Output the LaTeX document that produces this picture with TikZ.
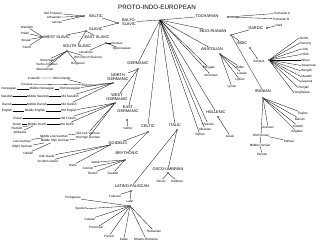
\documentclass[tikz,border=0pt]{standalone}
\usepackage{fontspec}
\setmainfont{Liberation Sans}
\begin{document}
\begin{tikzpicture}[x=1pt,y=-1pt,line width=0.3pt,
  leaf/.style={inner sep=0.4pt, font=\fontsize{3.1}{3.5}\selectfont},
  grp/.style={inner sep=0.4pt, font=\fontsize{3.9}{4.2}\selectfont, align=center},
  dotn/.style={circle, fill=black, inner sep=0pt, minimum size=1.8pt}]
\useasboundingbox (0,0) rectangle (320,247);
\fill[white] (0,0) rectangle (320,247);
% title and root
\node[inner sep=0pt, font=\fontsize{6.3}{7}\selectfont] (pie) at (157,7) {PROTO-INDO-EUROPEAN};
\coordinate (root) at (160,20);
% ---------------- Balto-Slavic
\node[grp] (bs) at (129,22) {BALTO-\\SLAVIC};
\node[dotn] (bsd) at (118,23) {};
\node[grp] (bal) at (96,16) {BALTIC};
\node[dotn] (bald) at (84,16) {};
\node[leaf] (opr) at (53,13) {Old Prussian};
\node[leaf] (lit) at (54,17.5) {Lithuanian};
\node[leaf] (lat) at (57,22) {Latvian};
\node[grp] (sla) at (96,29) {SLAVIC};
\node[dotn] (slad) at (86,31) {};
\node[grp] (ws) at (57,37) {WEST SLAVIC};
\node[dotn] (wsd) at (43,37) {};
\node[leaf] (wen) at (27,27) {Wendish};
\node[leaf] (pol) at (25,33) {Polish};
\node[leaf] (slk) at (26,40) {Slovak};
\node[leaf] (cze) at (27,47) {Czech};
\node[grp] (ss) at (77,46) {SOUTH SLAVIC};
\node[dotn] (ssd) at (67,51) {};
\node[leaf] (slv) at (47,60) {Slovenian};
\node[leaf] (sc) at (47,64.5) {Serbo-Croatian};
\node[leaf] (mac) at (45,69) {Macedonian};
\node[leaf] (bul) at (78,64) {Bulgarian};
\node[leaf] (ocs) at (88,57) {Old Church Slavonic};
\node[grp] (es) at (97,37) {EAST SLAVIC};
\node[dotn] (esd) at (106,43) {};
\node[leaf] (rus) at (117,43) {Russian};
\node[leaf] (ukr) at (86,52) {Ukrainian};
\node[leaf] (bye) at (122,49) {Byelorussian};
% ---------------- Germanic
\node[grp] (ger) at (138,63) {GERMANIC};
\node[dotn] (gerd) at (138,69) {};
\node[grp] (ng) at (118,77) {NORTH\\GERMANIC};
\node[dotn] (ngd) at (113,83) {};
\node[leaf] (onorse) at (89,85) {Old Norse};
\node[leaf] (oice) at (62,78) {Old Icelandic};
\node[leaf] (ice) at (34,78) {Icelandic};
\node[leaf] (far) at (27,84) {Faroese};
\node[leaf] (onorw) at (70,89) {Old Norwegian};
\node[leaf] (mnorw) at (42,89) {Middle Norwegian};
\node[leaf] (norw) at (9,89) {Norwegian};
\node[leaf] (oswe) at (70,96) {Old Swedish};
\node[leaf] (mswe) at (38,96) {Middle Swedish};
\node[leaf] (swe) at (7,96) {Swedish};
\node[leaf] (odan) at (69,104) {Old Danish};
\node[leaf] (mdan) at (37,104) {Middle Danish};
\node[leaf] (dan) at (7,104) {Danish};
\node[grp] (wg) at (117,97) {WEST\\GERMANIC};
\node[dotn] (wgd) at (115,103) {};
\node[leaf] (oeng) at (69,111) {Old English};
\node[leaf] (meng) at (35,111) {Middle English};
\node[leaf] (eng) at (7,111) {English};
\node[leaf] (ofri) at (68,118) {Old Frisian};
\node[leaf] (fri) at (18,118) {Frisian};
\node[leaf] (odut) at (67,124) {Old Dutch};
\node[leaf] (mdut) at (37,124) {Middle Dutch};
\node[leaf] (dut) at (17,124) {Dutch};
\node[leaf] (fle) at (17,128) {Flemish};
\node[leaf] (afr) at (20,132) {Afrikaans};
\node[leaf] (olg) at (88,133) {Old Low German};
\node[leaf] (mlg) at (54,136) {Middle Low German};
\node[leaf] (lg) at (22,141) {Low German};
\node[leaf] (ohg) at (88,138) {Old High German};
\node[leaf] (mhg) at (55,141) {Middle High German};
\node[leaf] (hg) at (22,147) {(High) German};
\node[leaf] (yid) at (28,153) {Yiddish};
\node[grp] (eg) at (128,109) {EAST\\GERMANIC};
\node[dotn] (egd) at (127,120) {};
\node[leaf] (got) at (128,128) {Gothic};
% ---------------- Celtic
\node[grp] (cel) at (148,126) {CELTIC};
\node[dotn] (celd) at (148,132) {};
\node[grp] (goi) at (118,143) {GOIDELIC};
\node[dotn] (goid) at (110,145) {};
\node[leaf] (irg) at (47,156) {Irish Gaelic};
\node[leaf] (scg) at (48,161) {Scottish Gaelic};
\node[leaf] (manx) at (73,165) {Manx};
\node[grp] (bry) at (127,153) {BRYTHONIC};
\node[dotn] (bryd) at (125,160) {};
\node[leaf] (wel) at (96,162) {Welsh};
\node[leaf] (cor) at (88,168) {Cornish};
\node[leaf] (bre) at (93,173) {Breton};
\node[leaf] (gau) at (113,173) {Gaulish};
% ---------------- Italic
\node[grp] (ita) at (175,125) {ITALIC};
\node[dotn] (itad) at (177,130) {};
\node[grp] (lf) at (132,186) {LATINO-FALISCAN};
\node[dotn] (lfd) at (131,191) {};
\node[leaf] (fal) at (115,196) {Faliscan};
\node[leaf] (latn) at (130,201) {Latin};
\node[dotn] (latd) at (130,206) {};
\node[leaf] (por) at (73,198) {Portuguese};
\node[leaf] (spa) at (81,209) {Spanish};
\node[leaf] (cat) at (90,219) {Catalan};
\node[leaf] (pro) at (96,228) {Proven\c{c}al};
\node[leaf] (fre) at (109,236) {French};
\node[leaf] (itl) at (124,239) {Italian};
\node[leaf] (rha) at (146,239) {Rhaeto-Romance};
\node[leaf] (rum) at (154,231) {Rumanian};
\node[grp] (ou) at (168,169) {OSCO-UMBRIAN};
\node[dotn] (oud) at (168,173) {};
\node[leaf] (osc) at (161,181) {Oscan};
\node[leaf] (umb) at (177,181) {Umbrian};
% ---------------- Hellenic and others
\node[grp] (hel) at (216,112) {HELLENIC};
\node[dotn] (held) at (218,117) {};
\node[leaf] (gre) at (230,136) {Greek};
\node[leaf] (thr) at (208,124) {Thracian};
\node[leaf] (alb) at (205,129) {Albanian};
\node[leaf] (ill) at (200,135) {Illyrian};
\node[leaf] (phr) at (209,68) {Phrygian};
\node[leaf] (arm) at (211,75) {Armenian};
% ---------------- Anatolian
\node[grp] (ana) at (212,49) {ANATOLIAN};
\node[dotn] (anad) at (220,54) {};
\node[leaf] (hit) at (240,67) {Hittite};
\node[leaf] (luw) at (242,73) {Luwian};
\node[leaf] (lyd) at (240,80) {Lydian};
\node[leaf] (lyc) at (232,87) {Lycian};
% ---------------- Indo-Iranian
\node[grp] (ii) at (213,31) {INDO-IRANIAN};
\node[dotn] (iid) at (231,35) {};
\node[grp] (dar) at (256,28) {DARDIC};
\node[dotn] (dard) at (267,28) {};
\node[leaf] (dardl) at (279,25) {Dard};
\node[grp] (ind) at (242,43) {INDIC};
\node[dotn] (indd) at (250,48) {};
\node[leaf] (san) at (259,61) {Sanskrit};
\node[dotn] (sand) at (269,60) {};
\foreach \n/\y/\x/\t in {sin/38/299/Sindhi, rom/43.5/299/Romany, urd/49/301/Urdu, hin/54.5/301/Hindi,
  bih/60/301/Bihari, ass/65.5/301/Assamese, ben/71/301/Bengali, mar/76.5/301/Marathi,
  guj/82/301/Gujarati, pun/87.5/298/Punjabi, sng/93/294/Singhalese}
  {\node[leaf, anchor=west] (\n) at (\x,\y) {\t};
   \draw (sand) -- (\n.west);}
\node[grp] (ir) at (263,91) {IRANIAN};
\node[dotn] (ird) at (263,98) {};
\node[leaf] (pas) at (303,113) {Pashto};
\node[leaf] (blc) at (300,119) {Balochi};
\node[leaf] (kur) at (298,126) {Kurdish};
\node[leaf] (sog) at (297,132) {Sogdian};
\node[leaf] (ave) at (268,127) {Avestan};
\node[leaf] (ope) at (261,135) {Old Persian};
\node[leaf] (pah) at (289,141) {Pahlavi};
\node[leaf] (mpe) at (260,145) {Middle Persian};
\node[leaf] (per) at (262,154) {Persian};
% ---------------- Tocharian
\node[grp] (toc) at (207,16) {TOCHARIAN};
\node[dotn] (tocd) at (228,17) {};
\node[leaf] (toa) at (282,13) {Tocharian A};
\node[leaf] (tob) at (281,19) {Tocharian B};
% ================= connectors
\foreach \n in {bs,toc,ii,ana,phr,arm,thr,alb,ill,hel,ita,cel,ger} \draw (root) -- (\n);
\foreach \n in {bal,sla} \draw (bsd) -- (\n);
\foreach \n in {opr,lit,lat} \draw (bald) -- (\n);
\foreach \n in {ws,ss,es} \draw (slad) -- (\n);
\foreach \n in {wen,pol,slk,cze} \draw (wsd) -- (\n);
\foreach \n in {slv,sc,mac,bul,ocs} \draw (ssd) -- (\n);
\foreach \n in {rus,ukr,bye} \draw (esd) -- (\n);
\foreach \n in {ng,wg,eg} \draw (gerd) -- (\n);
\foreach \n in {onorse,onorw,oswe,odan} \draw (ngd) -- (\n);
\draw (far) -- (onorse);
\draw (ice) -- (oice) -- (onorse);
\draw (norw) -- (mnorw) -- (onorw);
\draw (swe) -- (mswe) -- (oswe);
\draw (dan) -- (mdan) -- (odan);
\foreach \n in {oeng,ofri,odut,olg,ohg} \draw (wgd) -- (\n);
\draw (eng) -- (meng) -- (oeng);
\draw (fri) -- (ofri);
\draw (mdut) -- (odut);
\foreach \n in {dut,fle,afr} \draw (mdut) -- (\n);
\draw (lg) -- (mlg) -- (olg);
\draw (mhg) -- (ohg);
\foreach \n in {hg,yid} \draw (mhg) -- (\n);
\draw (egd) -- (got);
\foreach \n in {goi,bry} \draw (celd) -- (\n);
\foreach \n in {irg,scg,manx} \draw (goid) -- (\n);
\foreach \n in {wel,cor,bre,gau} \draw (bryd) -- (\n);
\foreach \n in {lf,ou} \draw (itad) -- (\n);
\foreach \n in {fal,latn} \draw (lfd) -- (\n);
\foreach \n in {por,spa,cat,pro,fre,itl,rha,rum} \draw (latd) -- (\n);
\foreach \n in {osc,umb} \draw (oud) -- (\n);
\draw (held) -- (gre);
\foreach \n in {hit,luw,lyd,lyc} \draw (anad) -- (\n);
\foreach \n in {dar,ind,ir} \draw (iid) -- (\n);
\draw (dard) -- (dardl);
\draw (indd) -- (san);
\foreach \n in {pas,blc,kur,sog,ave,ope} \draw (ird) -- (\n);
\draw (ope) -- (mpe) -- (per);
\draw (ope) -- (pah);
\foreach \n in {toa,tob} \draw (tocd) -- (\n);
\end{tikzpicture}
\end{document}
